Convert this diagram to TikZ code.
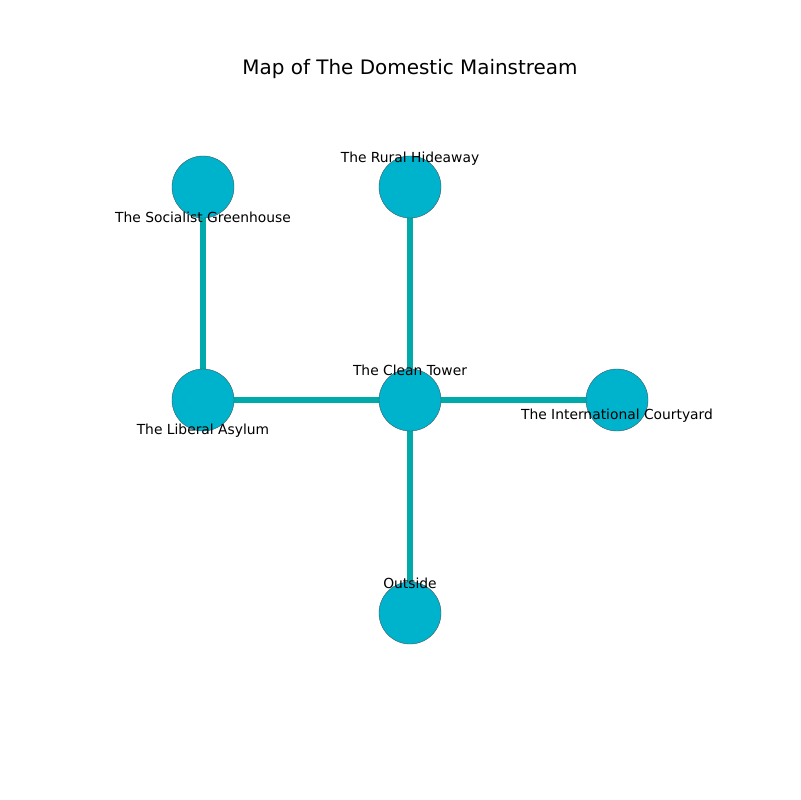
\documentclass[tikz,border=0pt]{standalone}
\usepackage{fontspec}
\setmainfont{DejaVu Sans}
\definecolor{nodefill}{RGB}{0,179,204}
\definecolor{edgecol}{RGB}{0,170,170}
\definecolor{nodeline}{RGB}{60,90,100}
\begin{document}
\begin{tikzpicture}[x=0.01in,y=-0.01in,
  place/.style={circle,fill=nodefill,draw=nodeline,line width=0.3pt,minimum size=0.62in,inner sep=0pt},
  link/.style={edgecol,line width=4pt},
  lab/.style={font=\fontsize{10}{12}\selectfont,inner sep=0pt,anchor=center},
  ttl/.style={font=\fontsize{14.4}{17}\selectfont,inner sep=0pt,anchor=center}]
\useasboundingbox (0,0) rectangle (800,800);
\coordinate (cg) at (203,187);
\coordinate (cr) at (410,187);
\coordinate (ca) at (203,400);
\coordinate (ct) at (410,400);
\coordinate (ci) at (617,400);
\coordinate (co) at (410,613);
\draw[link] (cg) -- (ca);
\draw[link] (ca) -- (ct);
\draw[link] (ct) -- (cr);
\draw[link] (ct) -- (ci);
\draw[link] (ct) -- (co);
\node[place] (g) at (cg) {};
\node[place] (r) at (cr) {};
\node[place] (a) at (ca) {};
\node[place] (t) at (ct) {};
\node[place] (i) at (ci) {};
\node[place] (o) at (co) {};
\node[ttl] (title) at (410,69) {Map of The Domestic Mainstream};
\node[lab] (lg) at (203,217.5) {The Socialist Greenhouse};
\node[lab] (lr) at (410,158.5) {The Rural Hideaway};
\node[lab] (la) at (203,431) {The Liberal Asylum};
\node[lab] (lt) at (410,370.5) {The Clean Tower};
\node[lab] (li) at (617,415.5) {The International Courtyard};
\node[lab] (lo) at (410,583.5) {Outside};
\end{tikzpicture}
\end{document}
